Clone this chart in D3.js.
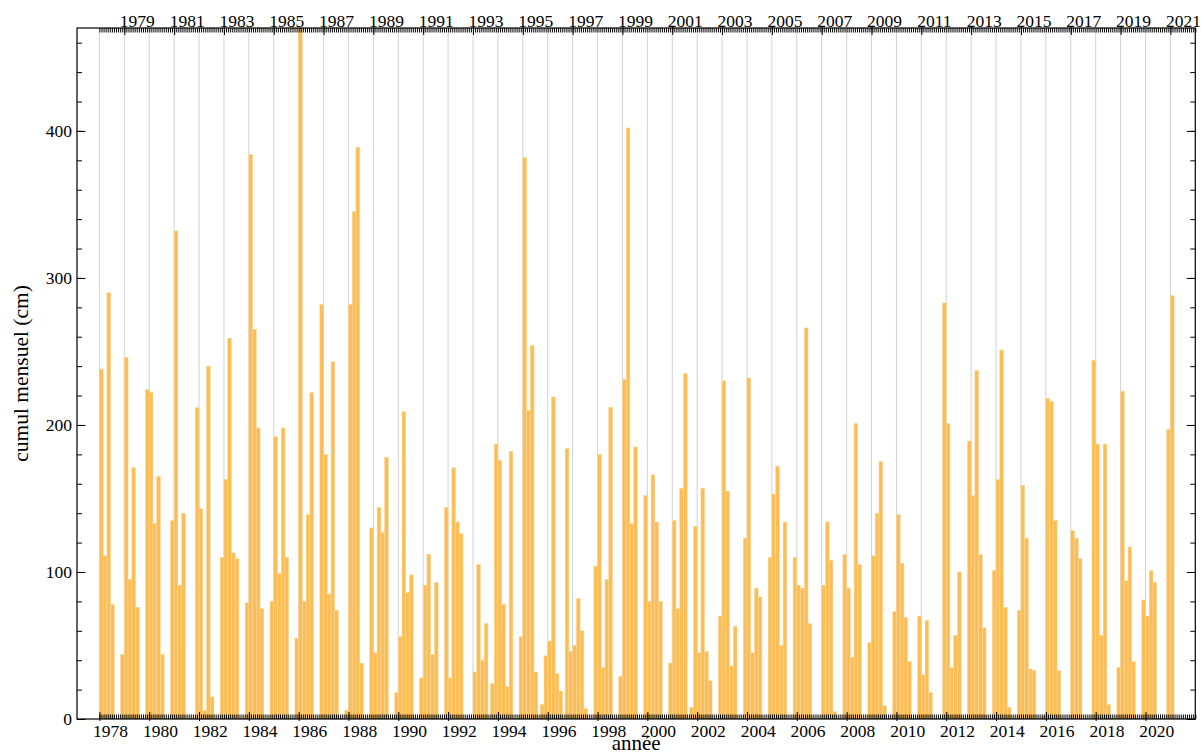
<!DOCTYPE html>
<html>
<head>
<meta charset="utf-8">
<script src="https://cdn.jsdelivr.net/npm/d3@7"></script>
<style>
  html, body { margin: 0; padding: 0; background: #fff; }
  svg { display: block; }
</style>
</head>
<body>
<svg id="chart" width="1201" height="755"></svg>
<script>
// ---- data: monthly snowfall (cm) per winter season (season = start year) ----
const seasons = d3.range(1977, 2021); // 1977-78 ... 2020-21
const nov = [0,0,0,0,0,0,0,0,0,0,0,0,0,0,0,0,24,0,10,184,0,0,0,0,8,0,0,0,0,0,0,0,0,0,0,0,0,0,0,0,0,0,0,0];
const dec = [0,44,224,135,212,110,79,80,55,282,6,130,18,28,144,0,187,56,43,46,104,29,152,38,131,70,123,110,110,0,112,52,73,70,283,189,101,74,2,0,244,35,81,197];
const jan = [238,246,222,332,143,163,384,192,480,180,282,45,56,91,28,32,176,382,53,50,180,231,80,135,45,230,232,153,91,91,89,111,139,30,201,152,163,159,218,128,187,223,70,288];
const feb = [111,95,133,91,6,259,265,99,80,85,345,144,209,112,171,105,78,210,219,82,35,402,166,75,157,155,45,172,89,134,42,140,106,67,35,237,251,123,216,123,57,94,101,0];
const mar = [290,171,165,140,240,113,198,198,139,243,389,127,86,44,134,40,22,254,31,60,95,133,134,157,46,36,89,50,266,108,201,175,69,18,57,112,76,34,135,109,187,117,93,0];
const apr = [78,76,44,0,15,109,75,110,222,74,38,178,98,93,126,65,182,32,19,7,212,185,80,235,26,63,83,134,65,5,105,9,39,0,100,62,8,33,33,0,10,39,0,0];
const months = [nov, dec, jan, feb, mar, apr];

const bottomYears = d3.range(1978, 2021, 2); // 1978 ... 2020
const topYears = d3.range(1979, 2022, 2);    // 1979 ... 2021
const gridYears = d3.range(1978, 2022);      // 1978 ... 2021
const yTicks = [0, 100, 200, 300, 400];
const yMinorTicks = d3.range(0, 471, 20);

const FONT = '"Liberation Serif"';

// ---- layout ----
const svg = d3.select("#chart");
const L = 77, R = 1195.3, T = 28, B = 719;
const x = d3.scaleLinear().domain([1977.1, 2022.0]).range([L, R]);
const y = d3.scaleLinear().domain([0, 470]).range([B, T]);
const slot = 0.15; // bar slot width in years

const rows = [];
seasons.forEach((s, i) => {
  months.forEach((arr, j) => {
    if (arr[i] > 0) rows.push({ t: s + 1 + (j - 2) * slot, v: arr[i] });
  });
});

svg.append("defs").append("clipPath").attr("id", "clip")
  .append("rect").attr("x", L).attr("y", T).attr("width", R - L).attr("height", B - T);

// gridlines
svg.append("g").selectAll("line").data(gridYears).join("line")
  .attr("x1", d => x(d)).attr("x2", d => x(d))
  .attr("y1", T).attr("y2", B)
  .attr("stroke", "#d2d2d2").attr("stroke-width", 1);

// bars
svg.append("g").attr("clip-path", "url(#clip)")
  .selectAll("rect").data(rows).join("rect")
  .attr("x", d => x(d.t))
  .attr("width", d => x(d.t + slot) - x(d.t))
  .attr("y", d => y(d.v))
  .attr("height", d => y(0) - y(d.v))
  .attr("fill", "#fbbd55")
  .attr("stroke", "#fcd89c").attr("stroke-width", 0.5);

// minor x ticks (monthly)
const monthTicks = d3.range(1978 * 12, 2022 * 12 + 1).map(k => k / 12);

function styleAxis(g) {
  g.attr("font-family", null).attr("font-size", null);
  g.select(".domain").remove();
  g.selectAll(".tick line").attr("stroke", "#000").attr("stroke-width", 1);
  g.selectAll(".tick text").style("font-family", FONT).style("font-size", "17.5px").attr("fill", "#000");
}

// bottom minor ticks
svg.append("g").attr("transform", `translate(0,${B})`)
  .call(d3.axisBottom(x).tickValues(monthTicks).tickSize(-4.5).tickFormat(""))
  .call(styleAxis);
// top minor ticks
svg.append("g").attr("transform", `translate(0,${T})`)
  .call(d3.axisTop(x).tickValues(monthTicks).tickSize(-4.5).tickFormat(""))
  .call(styleAxis);

// bottom major ticks + labels
const gb = svg.append("g").attr("transform", `translate(0,${B})`)
  .call(d3.axisBottom(x).tickValues(bottomYears).tickSize(-7).tickPadding(0).tickFormat(d3.format("d")))
  .call(styleAxis);
gb.selectAll(".tick line").attr("y1", 2);
gb.selectAll(".tick text").attr("dx", 10.7).attr("y", 18).attr("dy", 0);

// top major ticks + labels
const gt = svg.append("g").attr("transform", `translate(0,${T})`)
  .call(d3.axisTop(x).tickValues(topYears).tickSize(-7).tickPadding(0).tickFormat(d3.format("d")))
  .call(styleAxis);
gt.selectAll(".tick line").attr("y1", -2);
gt.selectAll(".tick text").attr("dx", 12.5).attr("y", -1.5).attr("dy", 0);

// left axis: minor + major
svg.append("g").attr("transform", `translate(${L},0)`)
  .call(d3.axisLeft(y).tickValues(yMinorTicks).tickSize(-5).tickFormat(""))
  .call(styleAxis);
svg.append("g").attr("transform", `translate(${L},0)`)
  .call(d3.axisLeft(y).tickValues(yTicks).tickSize(-8.5).tickPadding(5).tickFormat(d3.format("d")))
  .call(styleAxis);

// right axis: minor + major (no labels)
svg.append("g").attr("transform", `translate(${R},0)`)
  .call(d3.axisRight(y).tickValues(yMinorTicks).tickSize(-5).tickFormat(""))
  .call(styleAxis);
svg.append("g").attr("transform", `translate(${R},0)`)
  .call(d3.axisRight(y).tickValues(yTicks).tickSize(-8.5).tickFormat(""))
  .call(styleAxis);

// frame
svg.append("rect").attr("x", L).attr("y", T).attr("width", R - L).attr("height", B - T)
  .attr("fill", "none").attr("stroke", "#000").attr("stroke-width", 1.2);

// axis titles
svg.append("text")
  .attr("transform", `translate(${(L + R) / 2},750)`)
  .attr("text-anchor", "middle")
  .style("font-family", FONT).style("font-size", "21px").attr("fill", "#000")
  .text("année");
svg.append("text")
  .attr("transform", `translate(28,${(T + B) / 2}) rotate(-90)`)
  .attr("text-anchor", "middle")
  .style("font-family", FONT).style("font-size", "21.5px").attr("fill", "#000")
  .text("cumul mensuel (cm)");
</script>
</body>
</html>
